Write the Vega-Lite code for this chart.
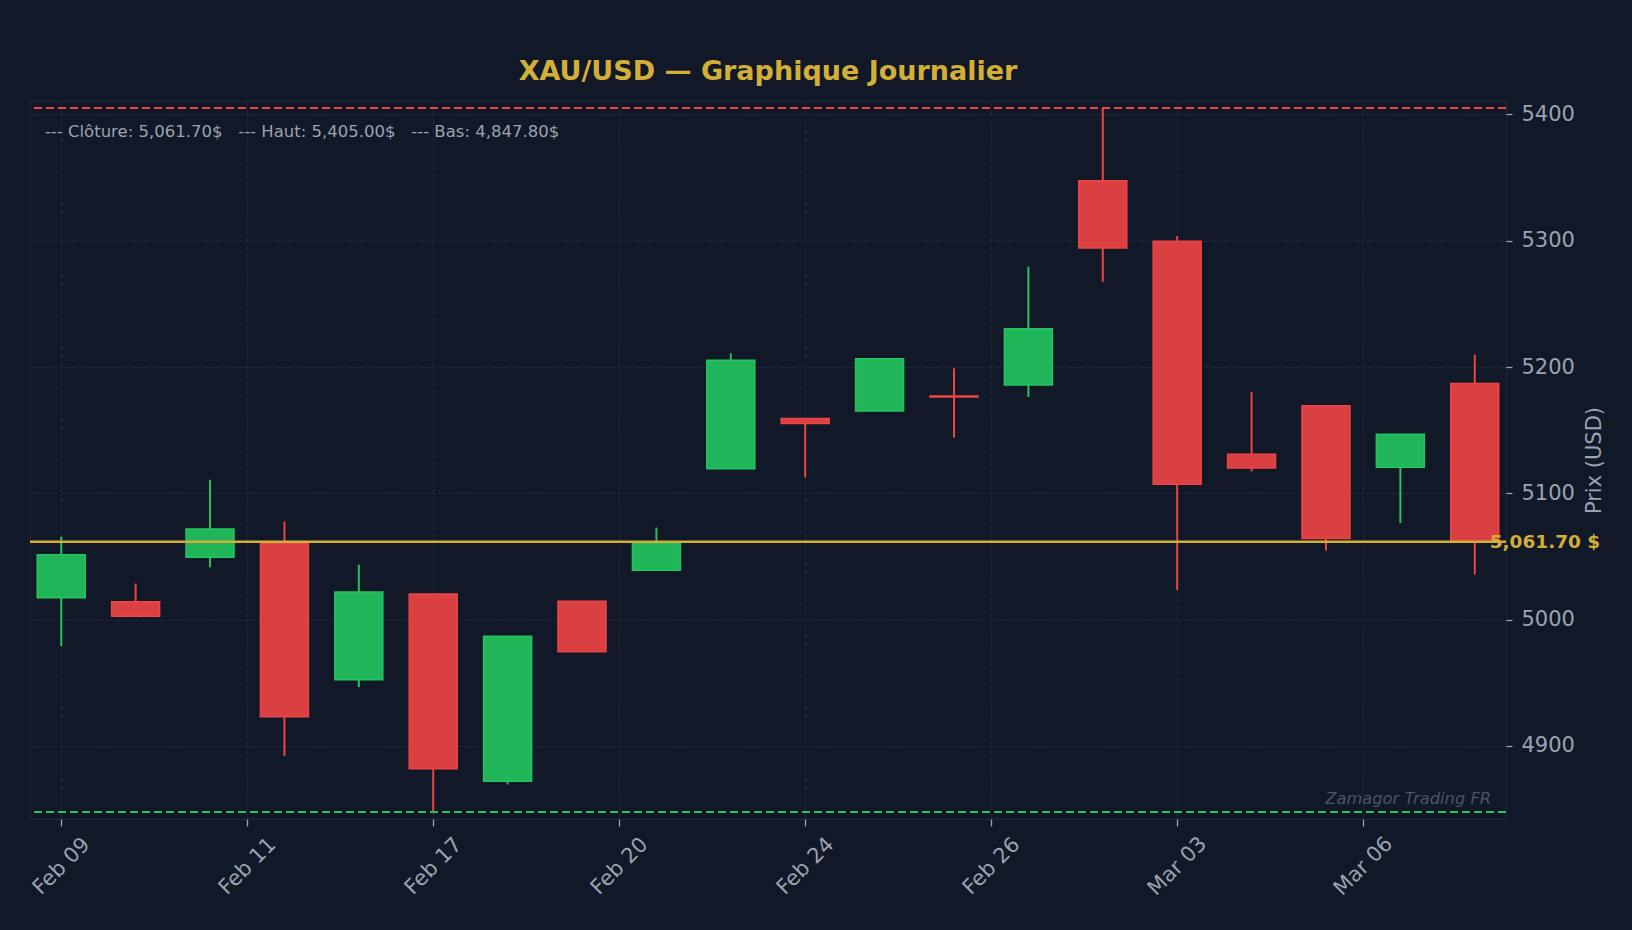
{
  "$schema": "https://vega.github.io/schema/vega-lite/v6.json",
  "width": 1476,
  "height": 718,
  "autosize": {"type": "none"},
  "padding": {"left": 30, "top": 101, "right": 126, "bottom": 111},
  "background": "#111827",
  "title": {
    "text": "XAU/USD — Graphique Journalier",
    "color": "#d4af37",
    "font": "DejaVu Sans",
    "fontSize": 27,
    "fontWeight": "bold",
    "anchor": "middle",
    "frame": "group",
    "baseline": "alphabetic",
    "offset": -6
  },
  "datasets": {
    "candles": [
      {"i": 0, "date": "Feb 09", "open": 5017.3, "high": 5065.7, "low": 4979.0, "close": 5051.3},
      {"i": 1, "date": "Feb 10", "open": 5014.1, "high": 5028.6, "low": 5002.5, "close": 5002.8},
      {"i": 2, "date": "Feb 11", "open": 5049.4, "high": 5110.8, "low": 5041.5, "close": 5071.8},
      {"i": 3, "date": "Feb 12", "open": 5060.5, "high": 5077.6, "low": 4892.1, "close": 4923.2},
      {"i": 4, "date": "Feb 13", "open": 4952.4, "high": 5043.6, "low": 4946.6, "close": 5022.0},
      {"i": 5, "date": "Feb 17", "open": 5020.3, "high": 5020.6, "low": 4847.8, "close": 4882.0},
      {"i": 6, "date": "Feb 18", "open": 4872.0, "high": 4987.0, "low": 4869.5, "close": 4986.8},
      {"i": 7, "date": "Feb 19", "open": 5014.5, "high": 5014.8, "low": 4974.5, "close": 4974.7},
      {"i": 8, "date": "Feb 20", "open": 5039.2, "high": 5072.9, "low": 5039.0, "close": 5060.3},
      {"i": 9, "date": "Feb 23", "open": 5119.5, "high": 5210.8, "low": 5119.2, "close": 5205.3},
      {"i": 10, "date": "Feb 24", "open": 5159.2, "high": 5159.5, "low": 5112.4, "close": 5155.3},
      {"i": 11, "date": "Feb 25", "open": 5165.2, "high": 5207.0, "low": 5165.0, "close": 5206.6},
      {"i": 12, "date": "Feb 26", "open": 5177.0, "high": 5199.0, "low": 5144.0, "close": 5176.3},
      {"i": 13, "date": "Feb 27", "open": 5185.8, "high": 5279.5, "low": 5176.3, "close": 5230.3},
      {"i": 14, "date": "Mar 02", "open": 5347.4, "high": 5405.0, "low": 5267.4, "close": 5294.2},
      {"i": 15, "date": "Mar 03", "open": 5299.5, "high": 5303.7, "low": 5023.5, "close": 5107.2},
      {"i": 16, "date": "Mar 04", "open": 5131.0, "high": 5180.1, "low": 5117.3, "close": 5120.0},
      {"i": 17, "date": "Mar 05", "open": 5169.4, "high": 5169.8, "low": 5054.7, "close": 5064.2},
      {"i": 18, "date": "Mar 06", "open": 5120.7, "high": 5146.9, "low": 5076.4, "close": 5146.7},
      {"i": 19, "date": "Mar 09", "open": 5186.9, "high": 5210.0, "low": 5035.7, "close": 5061.7}
    ],
    "levels": [
      {"level": "Haut", "price": 5405.0, "label": "5,405.00 $"},
      {"level": "Bas", "price": 4847.8, "label": "4,847.80 $"},
      {"level": "Clôture", "price": 5061.7, "label": "5,061.70 $"}
    ]
  },
  "data": {"name": "candles"},
  "layer": [
    {
      "mark": {"type": "rule", "strokeWidth": 2},
      "encoding": {
        "x": {
          "field": "i",
          "type": "quantitative",
          "scale": {"domain": [-0.42, 19.42], "nice": false, "zero": false, "padding": 0},
          "axis": {
            "title": null,
            "values": [0, 2.5, 5, 7.5, 10, 12.5, 15, 17.5],
            "labelExpr": "['Feb 09','Feb 11','Feb 17','Feb 20','Feb 24','Feb 26','Mar 03','Mar 06'][round(datum.value / 2.5)]",
            "labelAngle": -45,
            "labelAlign": "center",
            "labelBaseline": "middle",
            "labelPadding": 40,
            "labelFontSize": 21,
            "labelColor": "#9ca3af",
            "labelFont": "DejaVu Sans",
            "labelFlush": false,
            "labelOverlap": false,
            "tickSize": 7,
            "tickColor": "#9ca3af",
            "tickWidth": 1.3,
            "domain": false,
            "grid": true,
            "gridColor": "#1f2937",
            "gridDash": [6, 3],
            "gridWidth": 1
          }
        },
        "y": {
          "field": "low",
          "type": "quantitative",
          "scale": {"domain": [4842.2, 5410.6], "nice": false, "zero": false, "padding": 0},
          "axis": {
            "orient": "right",
            "title": "Prix (USD)",
            "titleAngle": 270,
            "titleBaseline": "top",
            "titleFontSize": 21,
            "titleFontWeight": "normal",
            "titleColor": "#9ca3af",
            "titleFont": "DejaVu Sans",
            "titlePadding": 9,
            "values": [4900, 5000, 5100, 5200, 5300, 5400],
            "format": "d",
            "labelFontSize": 21,
            "labelColor": "#9ca3af",
            "labelFont": "DejaVu Sans",
            "labelPadding": 9,
            "labelFlush": false,
            "labelOverlap": false,
            "tickSize": 6,
            "tickColor": "#9ca3af",
            "tickWidth": 1.3,
            "domain": false,
            "grid": true,
            "gridColor": "#1f2937",
            "gridDash": [6, 3],
            "gridWidth": 1
          }
        },
        "y2": {"field": "high"},
        "color": {
          "condition": {"test": "datum.close >= datum.open", "value": "#22c55e"},
          "value": "#ef4444"
        }
      }
    },
    {
      "mark": {"type": "bar", "size": 48, "strokeWidth": 1.5},
      "encoding": {
        "x": {"field": "i", "type": "quantitative"},
        "y": {"field": "open", "type": "quantitative"},
        "y2": {"field": "close"},
        "fill": {
          "condition": {"test": "datum.close >= datum.open", "value": "#21b55a"},
          "value": "#da4042"
        },
        "stroke": {
          "condition": {"test": "datum.close >= datum.open", "value": "#22c55e"},
          "value": "#ef4444"
        }
      }
    },
    {
      "data": {"name": "levels"},
      "transform": [{"filter": "datum.level !== 'Clôture'"}],
      "mark": {"type": "rule", "strokeWidth": 2, "strokeDash": [8, 4]},
      "encoding": {
        "y": {"field": "price", "type": "quantitative"},
        "color": {
          "field": "level",
          "type": "nominal",
          "scale": {"domain": ["Haut", "Bas"], "range": ["#ef4444", "#22c55e"]},
          "legend": null
        }
      }
    },
    {
      "data": {"name": "levels"},
      "transform": [{"filter": "datum.level === 'Clôture'"}],
      "mark": {"type": "rule", "color": "#d4af37", "strokeWidth": 2.7},
      "encoding": {"y": {"field": "price", "type": "quantitative"}}
    },
    {
      "data": {"values": [{"note": "--- Clôture: 5,061.70$\u00a0\u00a0 --- Haut: 5,405.00$\u00a0\u00a0 --- Bas: 4,847.80$"}]},
      "mark": {"type": "text", "align": "left", "baseline": "alphabetic", "font": "DejaVu Sans", "fontSize": 16.5, "color": "#9ca3af"},
      "encoding": {
        "x": {"datum": -0.22, "type": "quantitative"},
        "y": {"datum": 5382.2, "type": "quantitative"},
        "text": {"field": "note"}
      }
    },
    {
      "data": {"values": [{"note": "Zamagor Trading FR"}]},
      "mark": {"type": "text", "align": "right", "baseline": "alphabetic", "font": "DejaVu Sans", "fontSize": 16.3, "fontStyle": "italic", "color": "#4b5563"},
      "encoding": {
        "x": {"datum": 19.22, "type": "quantitative"},
        "y": {"datum": 4854.4, "type": "quantitative"},
        "text": {"field": "note"}
      }
    },
    {
      "data": {"name": "levels"},
      "transform": [{"filter": "datum.level === 'Clôture'"}],
      "mark": {"type": "text", "align": "left", "baseline": "middle", "font": "DejaVu Sans", "fontSize": 18.5, "fontWeight": "bold", "color": "#d4af37"},
      "encoding": {
        "x": {"datum": 19.2, "type": "quantitative"},
        "y": {"field": "price", "type": "quantitative"},
        "text": {"field": "label"}
      }
    }
  ],
  "config": {
    "view": {"stroke": "#1f2937", "strokeWidth": 1.2},
    "font": "DejaVu Sans"
  }
}
